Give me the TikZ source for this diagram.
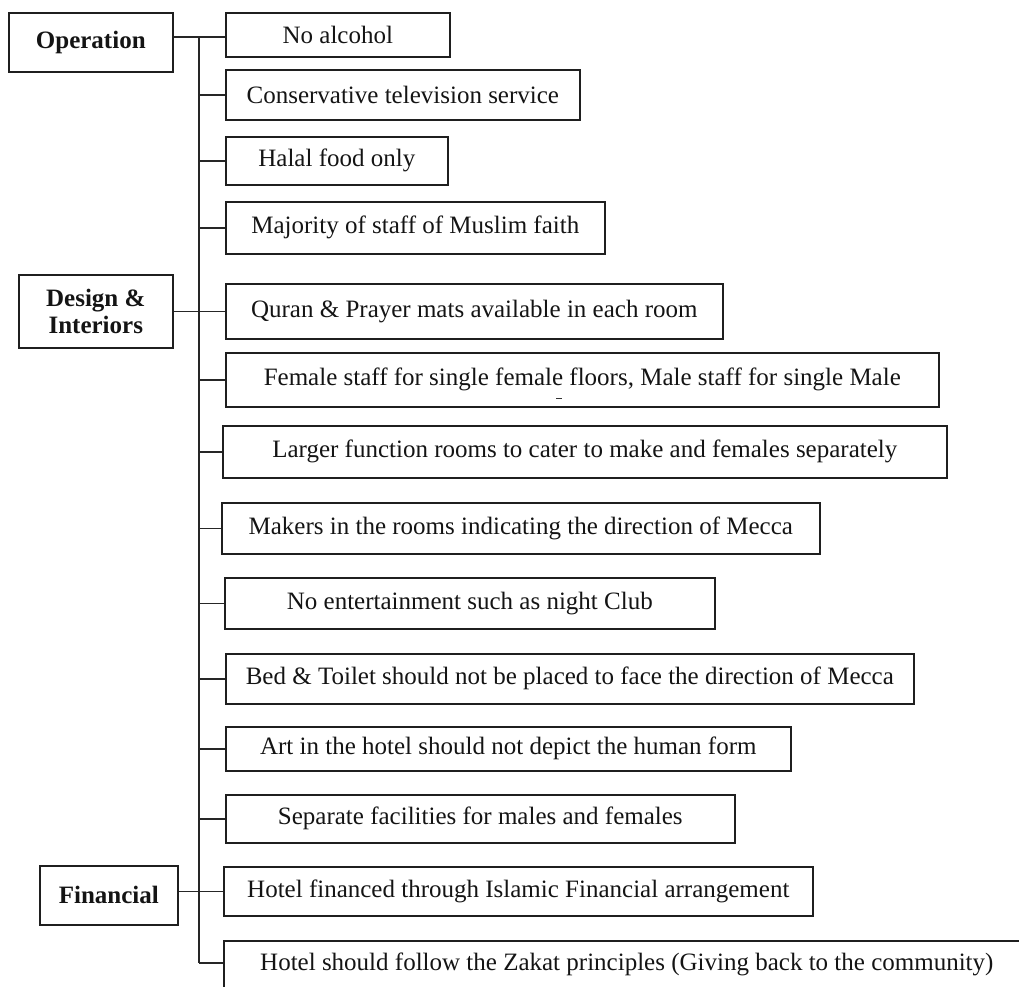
\documentclass[tikz,border=0pt]{standalone}
\usepackage{fontspec}
\setmainfont{Liberation Serif}
\begin{document}
\begin{tikzpicture}[x=1pt,y=-1pt,
  box/.style={draw=black!88, line width=1.6pt, inner sep=0pt, anchor=north west,
    font=\fontsize{25}{27}\selectfont, text=black!92},
  head/.style={box, align=center, font=\fontsize{25}{27}\selectfont\bfseries},
  link/.style={line width=1.4pt, draw=black!85}]
\useasboundingbox (0,0) rectangle (1019,986);
% left headings
\node[head, minimum width=164pt, minimum height=59pt] (op) at (8,12) {Operation};
\node[head, minimum width=154pt, minimum height=73pt] (di) at (18,274) {Design \&\\Interiors};
\node[head, minimum width=138pt, minimum height=59pt] (fi) at (39,865) {Financial};
% right boxes
\node[box, minimum width=224pt, minimum height=44pt] (b1) at (225,12) {No alcohol};
\node[box, minimum width=354pt, minimum height=50pt] (b2) at (225,69) {Conservative television service};
\node[box, minimum width=222pt, minimum height=48pt] (b3) at (225,136) {Halal food only};
\node[box, minimum width=379pt, minimum height=52pt] (b4) at (225,201) {Majority of staff of Muslim faith};
\node[box, minimum width=497pt, minimum height=55pt] (b5) at (225,283) {Quran \& Prayer mats available in each room};
\node[box, minimum width=713pt, minimum height=54pt] (b6) at (225,352) {Female staff for single female floors, Male staff for single Male};
\node[box, minimum width=724pt, minimum height=52pt] (b7) at (222,425) {Larger function rooms to cater to make and females separately};
\node[box, minimum width=598pt, minimum height=51pt] (b8) at (221,502) {Makers in the rooms indicating the direction of Mecca};
\node[box, minimum width=490pt, minimum height=51pt] (b9) at (224,577) {No entertainment such as night Club};
\node[box, minimum width=688pt, minimum height=50pt] (b10) at (225,653) {Bed \& Toilet should not be placed to face the direction of Mecca};
\node[box, minimum width=565pt, minimum height=44pt] (b11) at (225,726) {Art in the hotel should not depict the human form};
\node[box, minimum width=509pt, minimum height=48pt] (b12) at (225,794) {Separate facilities for males and females};
\node[box, minimum width=589pt, minimum height=49pt] (b13) at (223,866) {Hotel financed through Islamic Financial arrangement};
\node[box, minimum width=806pt, minimum height=48pt] (b14) at (223,940) {Hotel should follow the Zakat principles (Giving back to the community)};
% stray mark under "female"
\draw[line width=1pt, black!80] (556,398) -- (562,398);
% spine
\coordinate (top) at (199,37);
\coordinate (bot) at (199,963);
\draw[link] (top) -- (bot);
% heading links
\draw[link] (op.east |- top) -- (b1.west |- top);
\draw[link] (di.east) -- (b5.west);
\draw[link] (fi.east |- b13.west) -- (b13.west);
% ticks
\foreach \b in {b2,b3,b4,b6,b7,b8,b9,b10,b11,b12}
  \draw[link] (\b.west -| top) -- (\b.west);
\draw[link] (bot) -- (bot -| b14.west);
\end{tikzpicture}
\end{document}
